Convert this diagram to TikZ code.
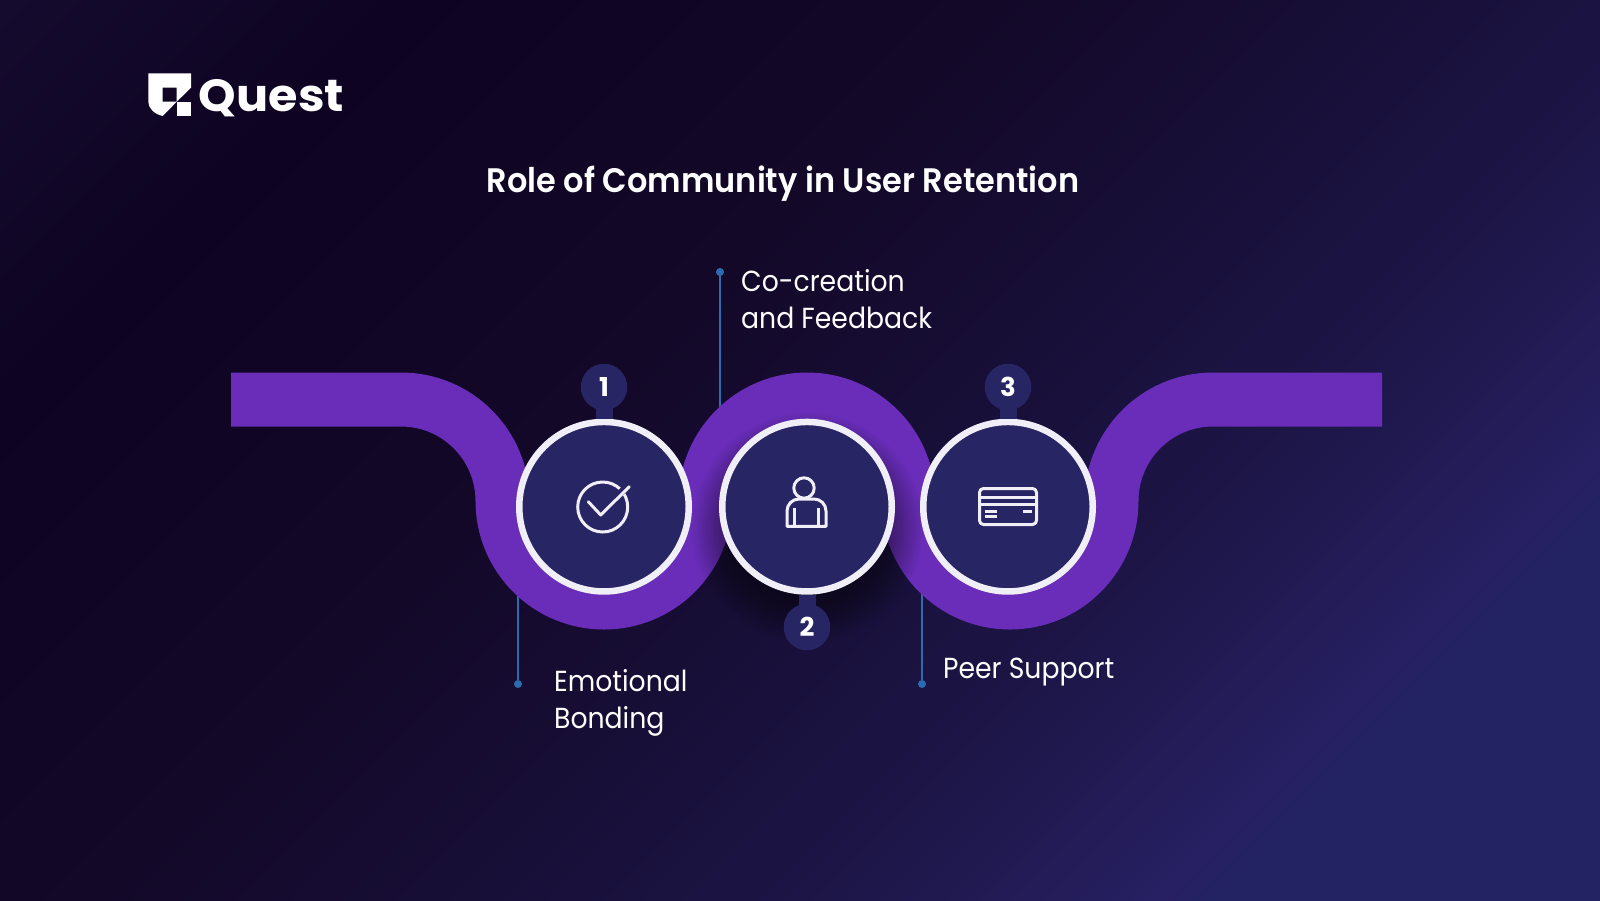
\documentclass[tikz,border=0pt]{standalone}
\usepackage{fontspec}
\setmainfont{Poppins}
\newfontfamily\titlefont[FakeStretch=0.94]{Poppins SemiBold}
\newfontfamily\labelfont[FakeStretch=0.92]{Poppins}
\newfontfamily\numfont{Poppins}
\newfontfamily\brandfont[FakeStretch=1.06]{Poppins}
\usepackage{tikz}
\usetikzlibrary{calc, fadings, positioning}
\definecolor{bgA}{HTML}{150B2E}
\definecolor{bgB}{HTML}{0E0322}
\definecolor{bgC}{HTML}{130828}
\definecolor{bgD}{HTML}{1C1545}
\definecolor{bgE}{HTML}{272062}
\definecolor{bgF}{HTML}{232263}
\definecolor{ribbon}{HTML}{692DB9}
\definecolor{disc}{HTML}{282565}
\definecolor{ringc}{HTML}{F0EEF6}
\definecolor{leadc}{HTML}{2B6CB0}
\pgfdeclarehorizontalshading{bgfade}{100bp}{
  color(0bp)=(bgA); color(25.4bp)=(bgA); color(33.3bp)=(bgB); color(45.1bp)=(bgC);
  color(58.8bp)=(bgD); color(66bp)=(bgE); color(67bp)=(bgF); color(100bp)=(bgF)}
\pgfdeclareradialshading{softshade}{\pgfpointorigin}{
  color(0bp)=(pgftransparent!0); color(19bp)=(pgftransparent!65);
  color(25bp)=(pgftransparent!100); color(50bp)=(pgftransparent!100)}
\pgfdeclarefading{softfade}{\pgfuseshading{softshade}}
\tikzset{
  stepdisc/.style={circle, draw=ringc, fill=disc, line width=6.5pt, minimum size=169.5pt, inner sep=0pt, outer sep=3.25pt},
  badge/.style={circle, fill=disc, minimum size=46.5pt, inner sep=0pt, text=white, font=\numfont\bfseries\fontsize{26}{26}\selectfont},
  neck/.style={disc, line width=17pt, shorten <=-3pt},
  leadline/.style={leadc, line width=2.7pt},
  leaddot/.style={circle, fill=leadc, minimum size=8pt, inner sep=0pt},
  steplabel/.style={text=white, align=left, anchor=west, inner sep=0pt, font=\labelfont\fontsize{29}{37}\selectfont},
  icon/.style={ringc, line width=3pt, line join=round}
}
\begin{document}
\begin{tikzpicture}[x=1pt, y=-1pt]
\useasboundingbox (0,0) rectangle (1600,900);
\begin{scope}
\clip (0,0) rectangle (1600,900);
\shade[shading=bgfade, shading angle=-45] (-100,-450) rectangle (1700,1350);
\end{scope}

% logo
\fill[white] (148.3,73.3) -- (191,73.3) -- (191,87.7) -- (176.7,101.7) -- (176.7,87.7) -- (162.7,87.7)
  -- (162.7,101.7) -- (176.7,101.7) -- (162.7,116) .. controls (154,114) and (148.3,108) .. (148.3,101.7) -- cycle;
\fill[white] (176.7,101.7) rectangle (191,116);
\node[text=white, inner sep=0pt, font=\brandfont\bfseries\fontsize{45}{45}\selectfont] (brand) at (271.5,98) {Quest};
\node[text=white, inner sep=0pt, font=\titlefont\fontsize{34}{34}\selectfont] (title) at (783,184) {Role of Community in User Retention};

% leader lines go under the ribbon
\node[leaddot] (dot1) at (518,684) {};
\node[leaddot] (dot2) at (720,272) {};
\node[leaddot] (dot3) at (922,684) {};
\coordinate (end1) at (518,590);
\coordinate (end2) at (720,420);
\coordinate (end3) at (922,590);
\draw[leadline] (dot1) -- (end1);
\draw[leadline] (dot2) -- (end2);
\draw[leadline] (dot3) -- (end3);

% ribbon
\draw[ribbon, line width=54pt] (231,399.5) -- (401,399.5)
  arc[start angle=-90, end angle=0, radius=101.5]
  arc[start angle=180, end angle=0, radius=101.5]
  arc[start angle=180, end angle=360, radius=101.5]
  arc[start angle=180, end angle=0, radius=101.5]
  arc[start angle=180, end angle=270, radius=101.5] -- (1382,399.5);

\fill[black, path fading=softfade, fit fading=true] (807,528) circle (116);

% steps
\node[badge] (badge1) at (604,387) {1};
\node[badge] (badge2) at (807,627) {2};
\node[badge] (badge3) at (1008,387) {3};
\node[stepdisc] (circ1) at (604,506.7) {};
\node[stepdisc] (circ2) at (807,506.7) {};
\node[stepdisc] (circ3) at (1008,506.7) {};
\draw[neck] (badge1.south) -- (circ1.north);
\draw[neck] (badge2.north) -- (circ2.south);
\draw[neck] (badge3.south) -- (circ3.north);

\node[steplabel] (lab1) at (554,703) {Emotional\\Bonding};
\node[steplabel] (lab2) at (741,299) {Co-creation\\and Feedback};
\node[steplabel] (lab3) at (943,672.5) {Peer Support};

% check icon
\draw[icon] (602.7,507) circle (25);
\draw[disc, line width=7pt] (608,504) -- (627,487);
\draw[icon, line cap=round] (588.3,501.7) -- (600.7,515) -- (629.3,486.7);

% person icon
\draw[icon] (787,526.3) -- (787,511) arc[start angle=180, end angle=270, radius=12] -- (814,499)
  arc[start angle=270, end angle=360, radius=12] -- (826,526.3) -- cycle;
\draw[icon] (794,508) -- (794,526.3);
\draw[icon] (818,508) -- (818,526.3);
\draw[icon, fill=disc] (804,488) circle (10.2);

% card icon
\draw[icon, rounded corners=4pt] (979.5,488.5) rectangle (1036.5,524.5);
\draw[icon] (979.5,497) -- (1036.5,497);
\draw[icon] (979.5,504) -- (1036.5,504);
\draw[icon] (984.5,511) -- (996.5,511);
\draw[icon] (984.5,516) -- (996.5,516);
\draw[icon] (1023,511) -- (1032,511);
\end{tikzpicture}
\end{document}
